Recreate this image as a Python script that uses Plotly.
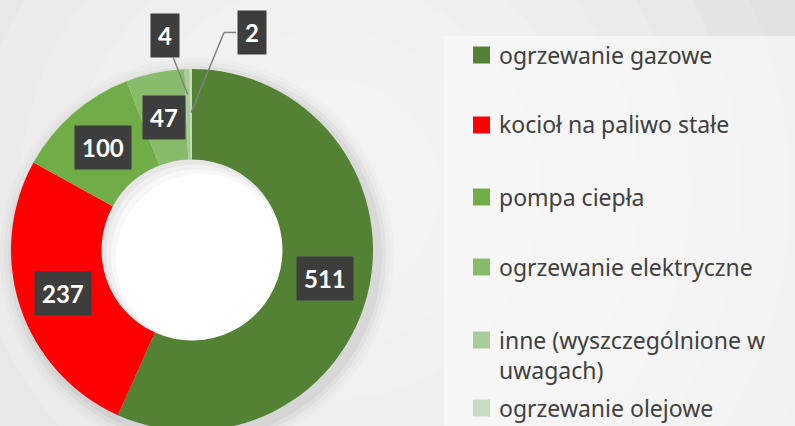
import math
import textwrap
import plotly.graph_objects as go

# ---------------- data ----------------
categories = [
    "ogrzewanie gazowe",
    "kocioł na paliwo stałe",
    "pompa ciepła",
    "ogrzewanie elektryczne",
    "inne (wyszczególnione w uwagach)",
    "ogrzewanie olejowe",
]
values = [511, 237, 100, 47, 4, 2]
colors = ["#548235", "#FF0000", "#70AD47", "#88BC6A", "#A8CB98", "#C5DCBF"]

# ---------------- layout constants ----------------
W, H = 795, 436          # figure is slightly taller than the window -> bottom is cropped
CX, CY, R = 192, 250, 181
HOLE = 0.5

def px_x(x):
    return x / W

def px_y(y):
    return 1 - y / H

fig = go.Figure()
fig.add_trace(go.Pie(
    labels=categories,
    values=values,
    hole=HOLE,
    sort=False,
    direction="clockwise",
    rotation=0,
    marker=dict(colors=colors, line=dict(width=0)),
    textinfo="none",
    hoverinfo="label+value",
    domain=dict(x=[px_x(CX - R), px_x(CX + R)], y=[px_y(CY + R), px_y(CY - R)]),
    showlegend=False,
))

shapes = []
# background radial gradient (stacked translucent white circles)
GX, GY = 330, 190
for rr in range(560, 60, -50):
    shapes.append(dict(type="circle", xref="paper", yref="paper", layer="below",
                       x0=px_x(GX - rr), x1=px_x(GX + rr), y0=px_y(GY + rr), y1=px_y(GY - rr),
                       fillcolor="rgba(255,255,255,0.13)", line=dict(width=0)))
# soft donut shadow
for dr, op in [(16, 0.015), (12, 0.02), (8, 0.03), (4, 0.04)]:
    shapes.append(dict(type="circle", xref="paper", yref="paper", layer="below",
                       x0=px_x(CX + 5 - R - dr), x1=px_x(CX + 5 + R + dr),
                       y0=px_y(CY + 5 + R + dr), y1=px_y(CY + 5 - R - dr),
                       fillcolor=f"rgba(0,0,0,{op})", line=dict(width=0)))
# hole fill with soft inner shadow at top-left
RH = R * HOLE
shapes.append(dict(type="circle", xref="paper", yref="paper", layer="below",
                   x0=px_x(CX - RH), x1=px_x(CX + RH), y0=px_y(CY + RH), y1=px_y(CY - RH),
                   fillcolor="#e6e6e6", line=dict(width=0)))
for k, (off, col) in enumerate([(3, "#f0f0f0"), (6, "#f8f8f8"), (9, "#ffffff")]):
    rr = RH - off * 0.6
    shapes.append(dict(type="circle", xref="paper", yref="paper", layer="below",
                       x0=px_x(CX + off - rr), x1=px_x(CX + off + rr),
                       y0=px_y(CY + off + rr), y1=px_y(CY + off - rr),
                       fillcolor=col, line=dict(width=0)))
# legend box
shapes.append(dict(type="rect", xref="paper", yref="paper", layer="below",
                   x0=px_x(444), x1=1.0, y0=0.0, y1=px_y(36),
                   fillcolor="rgba(250,250,250,0.7)", line=dict(width=0)))

annotations = []
# value labels derived from slice angles
total = sum(values)
cum = 0
# outside labels: (radius fraction of leader tip, box dx, box dy, bent leader?)
OUTSIDE = {4: (0.86, -23, -59, False), 5: (0.76, 61, -80, True)}
LABEL_FONT = dict(family="Lato", size=24, color="white")
for i, v in enumerate(values):
    mid = (cum + v / 2) / total * 2 * math.pi
    cum += v
    if i in OUTSIDE:
        rf, axp, ayp, bent = OUTSIDE[i]
    else:
        rf, axp, ayp, bent = (1 + HOLE) / 2, None, None, False
    px = CX + rf * R * math.sin(mid)
    py = CY - rf * R * math.cos(mid)
    ann = dict(xref="paper", yref="paper", text=f"<b>{v}</b>", font=LABEL_FONT,
               bgcolor="#3d3d3d", borderpad=7)
    if axp is None:
        ann.update(x=px_x(px), y=px_y(py), showarrow=False, xanchor="center", yanchor="middle")
    elif bent:
        bx, by = px + axp, py + ayp
        ann.update(x=px_x(bx), y=px_y(by), showarrow=False, xanchor="center", yanchor="middle")
        ex, ey = bx - 28, by
        for (x0, y0, x1, y1) in [(bx - 16, by, ex, ey), (ex, ey, px, py)]:
            shapes.append(dict(type="line", xref="paper", yref="paper",
                               x0=px_x(x0), y0=px_y(y0), x1=px_x(x1), y1=px_y(y1),
                               line=dict(color="#808080", width=1.5)))
    else:
        ann.update(x=px_x(px), y=px_y(py), showarrow=True, ax=axp, ay=ayp, arrowhead=0,
                   arrowwidth=1.5, arrowcolor="#808080", standoff=0)
    annotations.append(ann)

# legend (first-line centre y of each entry)
LEG_Y = [55, 125, 197, 267, 340, 408]
LEG_TEXT_X, LEG_SQ_X0, LEG_SQ = 497, 473, 17
LEG_FONT = dict(family="Noto Sans", size=23, color="#404040")
for name, col, yc in zip(categories, colors, LEG_Y):
    lines = textwrap.wrap(name, width=24)
    annotations.append(dict(xref="paper", yref="paper", x=px_x(LEG_TEXT_X), y=px_y(yc - 18.5),
                            xanchor="left", yanchor="top", align="left", showarrow=False,
                            text="<br>".join(lines), font=LEG_FONT))
    shapes.append(dict(type="rect", xref="paper", yref="paper",
                       x0=px_x(LEG_SQ_X0), x1=px_x(LEG_SQ_X0 + LEG_SQ),
                       y0=px_y(yc + LEG_SQ / 2), y1=px_y(yc - LEG_SQ / 2),
                       fillcolor=col, line=dict(width=0)))

fig.update_layout(
    width=W, height=H,
    margin=dict(l=0, r=0, t=0, b=0),
    paper_bgcolor="#d9d9d9",
    plot_bgcolor="rgba(0,0,0,0)",
    shapes=shapes,
    annotations=annotations,
    showlegend=False,
)

fig.write_html("out.html", config={"displayModeBar": False},
               post_script="document.body.style.margin='0';document.body.style.overflow='hidden';")
